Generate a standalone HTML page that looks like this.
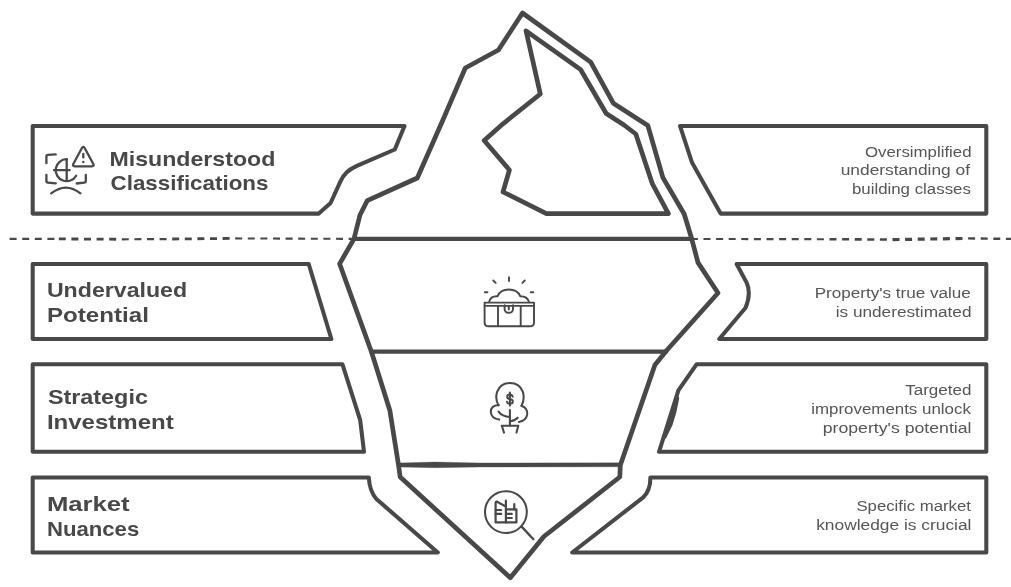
<!DOCTYPE html>
<html>
<head>
<meta charset="utf-8">
<title>Iceberg</title>
<style>
html,body{margin:0;padding:0;background:#fff;}
body{width:1011px;height:587px;overflow:hidden;font-family:"Liberation Sans",sans-serif;}
svg{display:block;filter:grayscale(1);}
.ln{fill:none;stroke:#484848;stroke-width:3.9;stroke-linejoin:round;stroke-linecap:round;}
.bx{fill:#fff;stroke:#484848;stroke-width:4.05;stroke-linejoin:round;stroke-linecap:round;}
.ic{fill:none;stroke:#484848;stroke-width:1.9;stroke-linejoin:round;stroke-linecap:round;}
.ic2{fill:none;stroke:#484848;stroke-width:2.3;stroke-linejoin:round;stroke-linecap:round;}
.h{font-family:"Liberation Sans",sans-serif;font-weight:bold;font-size:20.5px;fill:#484848;}
.b{font-family:"Liberation Sans",sans-serif;font-size:15.4px;fill:#565656;text-anchor:end;}
</style>
</head>
<body>
<svg width="1011" height="587" viewBox="0 0 1011 587">
<rect width="1011" height="587" fill="#fff"/>

<!-- dashed waterline -->
<g stroke="#484848" fill="none" stroke-dasharray="7 5.6">
<path d="M9.6,238.9 L58.8,238.9" stroke-width="2.1"/>
<path d="M58.8,238.9 L121.8,239.3" stroke-width="2.8" stroke-dashoffset="-0"/>
<path d="M121.8,239.3 L172.2,239" stroke-width="2.2"/>
<path d="M172.2,239 L235.2,238.4" stroke-width="2.8"/>
<path d="M235.2,238.4 L354,238.9" stroke-width="2.1"/>
<path d="M690.9,239 L829.5,239.2" stroke-width="2.1"/>
<path d="M829.5,239.2 L892.5,239.6" stroke-width="2.6"/>
<path d="M892.5,239.6 L968.1,238.4" stroke-width="3.2"/>
<path d="M968.1,238.4 L1011,238.9" stroke-width="2.4"/>
</g>
<!-- left boxes -->
<path class="bx" d="M32.7,125.9 L404.5,125.9 L394.8,149.5 L358,165.4 C348,169.8 344,173.8 340.2,181.8 L330.6,203 L318.8,213.6 L32.7,213.6 Z"/>
<path class="bx" d="M32.7,264 L308.7,264 L331.4,339 L32.7,339 Z"/>
<path class="bx" d="M32.7,364.2 L342.4,364.2 L360.2,420.2 L364,451.8 L32.7,451.8 Z"/>
<path class="bx" d="M32.7,477.5 L368.8,477.5 Q369.5,491 376.4,499 L437.8,552.5 L32.7,552.5 Z"/>

<!-- right boxes -->
<path class="bx" d="M986.3,125.9 L680,125.9 L692,162.6 L720.6,213.6 L986.3,213.6 Z"/>
<path class="bx" d="M986.3,264 L736.6,264 L746.6,282.6 Q751.5,293 745.6,307.7 L719.2,339 L986.3,339 Z"/>
<path class="bx" d="M986.3,364.2 L696.7,364.2 L678.4,390.4 L659,451.8 L986.3,451.8 Z"/>
<path class="bx" d="M986.3,477.5 L650.4,477.5 Q650.5,491 642.9,497.6 L572.2,552.5 L986.3,552.5 Z"/>

<path d="M676.6,394 L679.3,398 L676.3,412.5 L672.5,425 L666,438.5 L663.5,438.5 L669,420 Z" fill="#484848"/>
<!-- iceberg outer -->
<path class="ln" style="stroke-width:4.7" d="M522.5,13 L590.7,62.2 L613.3,103.2 L647.8,125.4 L662.9,177.6 L684.2,214 L691.7,238.8 L698,262.6 L718,293 L666.6,350.5 L654.9,365 L620.3,465.3 L619.8,477 L543.9,536.5 L510.3,577.8 L400.2,477 L398.5,465 L389.8,410.2 L371.5,352 L339.6,263.8 L354,238.8 L360,215 L367.2,200.7 L417.3,178 L442.9,120 L465.3,68 L498.4,50 Z"/>
<!-- iceberg inner -->
<path class="ln" style="stroke-width:4.7" d="M526,30.8 L580.7,69.7 L606.2,113.5 L624,125 L635.8,134 L652.4,183.9 L668.4,213.6 L546.4,213.6 L503,192 L509.4,170 L484.2,140.5 L503,123.8 L540.3,94 Z"/>
<!-- horizontal section lines -->
<line class="ln" x1="354" y1="238.9" x2="691.7" y2="238.9" style="stroke-width:4.1"/>
<line class="ln" x1="371.5" y1="351.7" x2="666" y2="351.7" style="stroke-width:4.2"/>
<path d="M398.5,462.9 L435,462.1 L480,462.9 L620.5,462.8 L620.5,466.8 L480,467 L435,467.7 L398.5,466.9 Z" fill="#484848" stroke="#484848" stroke-width="0.3"/>

<!-- icon 1: misunderstood -->
<g class="ic2">
<path d="M46.4,163.2 L46.4,156.6 Q46.4,155 48,154.9 L55.7,154.3"/>
<path d="M46.4,174.8 L46.4,181 Q46.4,182.5 48,182.6 L55.7,183.3"/>
<path d="M85.8,174.8 L85.8,181 Q85.8,182.6 84.2,182.7 L76.6,183.5"/>
<path d="M66.7,159.2 A11,11 0 1 0 76.2,175.7"/>
<path d="M66.7,159.2 L66.7,180.6"/>
<path d="M54,170.2 L69.6,170.2"/>
<path d="M81.8,148.2 Q83.3,145.4 84.8,148.2 L93.3,164 Q94.4,166.3 91.8,166.3 L74.8,166.3 Q72.2,166.3 73.3,164 Z"/>
<path d="M83.3,153.8 L83.3,157.6"/>
<path d="M83.3,162 L83.3,162.2"/>
<path d="M51.2,193.4 Q66,181.8 80.4,193.4"/>
</g>

<!-- icon 2: treasure chest -->
<g class="ic">
<path d="M484.6,302.6 L534,302.6 L534,322.4 Q534,326.2 530,326.2 L488.6,326.2 Q484.6,326.2 484.6,322.4 Z"/>
<path d="M484.6,305.9 L534,305.9"/>
<path d="M498,305.9 L498,325.4"/>
<path d="M520.7,305.9 L520.7,325.4"/>
<path d="M504.6,305.3 L504.6,309 Q504.8,312.8 508.8,312.8 Q512.8,312.8 513,309 L513,305.3"/>
<path d="M508.8,306.2 L508.8,309.4"/>
<path d="M489.2,301.6 Q490.5,295.8 497.6,296.2 Q500,289.6 508.8,289.5 Q517.6,289.6 520.2,296.2 Q527.4,296.2 528.8,301.6"/>
<path d="M509,277.3 L509,281"/>
<path d="M493.3,280.5 L495.7,282.9"/>
<path d="M524.8,280.5 L522.4,282.9"/>
<path d="M484.9,292.2 L487.4,292.2"/>
<path d="M530.8,292.2 L533.3,292.2"/>
</g>

<!-- icon 3: money tree -->
<g class="ic" style="stroke-width:2.05">
<path d="M498.4,405.4 Q494.8,398 497.2,391.6 Q500.6,383 509.9,383 Q519.4,383 522.8,391.6 Q525,398.6 521.6,405.8"/>
<path d="M498.8,405 Q490.6,405.6 490.8,412 Q491.4,418.6 499.2,419.6"/>
<path d="M521.4,405.8 Q527.8,408 527.2,414.4 Q526.2,420.8 518.9,421.9"/>
<path d="M509.9,409.9 L509.9,425.4"/>
<path d="M498.6,411.7 Q502,416.6 509.9,417.1"/>
<path d="M509.9,421.3 Q514.6,421 517.7,417.7"/>
<path d="M504,432.6 L501.8,425.8 L518.3,425.8 L516.5,432.6"/>
</g>
<g class="ic" style="stroke-width:2"><path d="M512.7,396.6 Q512,394.4 509.9,394.4 Q507.2,394.4 507.2,396.7 Q507.2,398.6 509.9,399.1 Q512.8,399.6 512.8,401.6 Q512.8,403.8 509.9,403.8 Q507.6,403.8 507,401.8"/><path d="M509.9,392.4 L509.9,405.7"/></g>

<!-- icon 4: magnifier buildings -->
<g class="ic" style="stroke-width:2.05">
<circle cx="505.9" cy="512.1" r="20.9"/>
<path d="M521.6,526.6 L533.4,539.2" style="stroke-width:2.3"/>
</g>
<g class="ic" style="stroke-width:2.2">
<path d="M497,501.8 Q495.6,501.4 495.6,502.8 L495.6,522.4 L516.4,522.4 L516.4,509.4 L505.9,509.4"/>
<path d="M497,501.8 L505.9,506.4"/>
<path d="M505.9,500.6 L505.9,522.4"/>
<path d="M495.6,510 L501.2,510"/>
<path d="M495.6,513.9 L501.2,513.9"/>
<path d="M514.3,504 L514.3,509.4"/>
<path d="M507.6,513.9 L511.8,513.9"/>
<path d="M507.6,518 L511.8,518"/>
</g>

<g>
<!-- left headings -->
<text class="h" x="109.5" y="165.6" textLength="165.8" lengthAdjust="spacingAndGlyphs">Misunderstood</text>
<text class="h" x="110.5" y="190.3" textLength="158.0" lengthAdjust="spacingAndGlyphs">Classifications</text>
<text class="h" x="46.9" y="297.0" textLength="140.2" lengthAdjust="spacingAndGlyphs">Undervalued</text>
<text class="h" x="46.9" y="322.1" textLength="102.0" lengthAdjust="spacingAndGlyphs">Potential</text>
<text class="h" x="47.9" y="403.8" textLength="100.0" lengthAdjust="spacingAndGlyphs">Strategic</text>
<text class="h" x="46.9" y="428.9" textLength="126.8" lengthAdjust="spacingAndGlyphs">Investment</text>
<text class="h" x="46.9" y="510.6" textLength="82.8" lengthAdjust="spacingAndGlyphs">Market</text>
<text class="h" x="46.9" y="535.6" textLength="92.4" lengthAdjust="spacingAndGlyphs">Nuances</text>

<!-- right descriptions -->
<text class="b" x="971.5" y="157.0" textLength="106.5" lengthAdjust="spacingAndGlyphs">Oversimplified</text>
<text class="b" x="970.1" y="175.1" textLength="129.4" lengthAdjust="spacingAndGlyphs">understanding of</text>
<text class="b" x="970.9" y="194.1" textLength="119.0" lengthAdjust="spacingAndGlyphs">building classes</text>
<text class="b" x="970.9" y="297.8" textLength="156.2" lengthAdjust="spacingAndGlyphs">Property's true value</text>
<text class="b" x="971.5" y="316.6" textLength="135.8" lengthAdjust="spacingAndGlyphs">is underestimated</text>
<text class="b" x="971.5" y="395.3" textLength="66.3" lengthAdjust="spacingAndGlyphs">Targeted</text>
<text class="b" x="970.9" y="414.1" textLength="159.7" lengthAdjust="spacingAndGlyphs">improvements unlock</text>
<text class="b" x="971.5" y="432.9" textLength="148.8" lengthAdjust="spacingAndGlyphs">property's potential</text>
<text class="b" x="970.9" y="511.3" textLength="114.5" lengthAdjust="spacingAndGlyphs">Specific market</text>
<text class="b" x="971.5" y="529.6" textLength="155.3" lengthAdjust="spacingAndGlyphs">knowledge is crucial</text>
</g>
</svg>
</body>
</html>
